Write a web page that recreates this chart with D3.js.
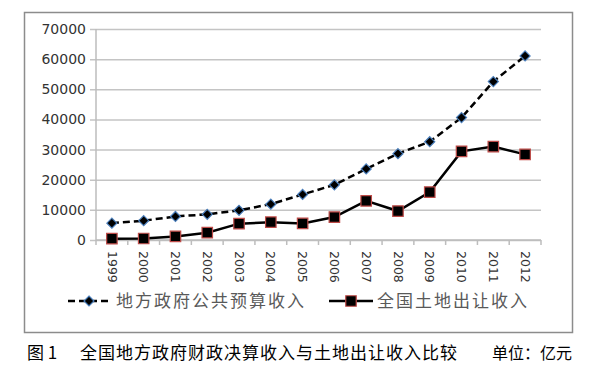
<!DOCTYPE html>
<html>
<head>
<meta charset="utf-8">
<script src="https://cdn.jsdelivr.net/npm/d3@7"></script>
<style>
  body { margin: 0; background: #fff; }
  svg { display: block; }
</style>
</head>
<body>
<svg id="chart" width="595" height="370"></svg>
<script>
const years = ['1999', '2000', '2001', '2002', '2003', '2004', '2005', '2006', '2007', '2008', '2009', '2010', '2011', '2012'];
const budgetRevenue = [5595, 6406, 7803, 8515, 9850, 11893, 15101, 18304, 23573, 28650, 32603, 40613, 52547, 61078];
const landRevenue = [450, 500, 1200, 2420, 5420, 5900, 5500, 7600, 13000, 9600, 15900, 29400, 31000, 28400];
const yTicks = [0, 10000, 20000, 30000, 40000, 50000, 60000, 70000];
const seriesNames = ['地方政府公共预算收入', '全国土地出让收入'];
const caption = ['图 1', '全国地方政府财政决算收入与土地出让收入比较', '单位：亿元'];

const svg = d3.select('#chart');
const margin = { top: 29, right: 54, bottom: 130, left: 96 };
const width = 595 - margin.left - margin.right;
const height = 370 - margin.top - margin.bottom;

// outer frame
svg.append('rect')
  .attr('x', 24.5).attr('y', 12.5)
  .attr('width', 548).attr('height', 320)
  .attr('fill', 'none')
  .attr('stroke', '#8c8c8c')
  .attr('stroke-width', 1.5);

const g = svg.append('g')
  .attr('transform', 'translate(' + margin.left + ',' + margin.top + ')');

const x = d3.scaleBand().domain(years).range([0, width]);
const y = d3.scaleLinear().domain([0, 70000]).range([height, 0]);

// gridlines + y labels
const yAxis = g.append('g')
  .call(d3.axisLeft(y).tickValues(yTicks).tickSize(-width - 6).tickPadding(10).tickFormat(d3.format('d')))
  .attr('transform', 'translate(-6,0)');
yAxis.select('.domain').remove();
yAxis.selectAll('.tick line').attr('stroke', '#c4c4c4').attr('stroke-width', 1.5);
yAxis.selectAll('.tick text')
  .attr('x', -4)
  .attr('fill', '#333')
  .style('font-family', '"DejaVu Sans", sans-serif')
  .style('font-size', '14px');

// y axis line
g.append('line')
  .attr('x1', 0).attr('x2', 0).attr('y1', 0).attr('y2', height)
  .attr('stroke', '#bdbdbd').attr('stroke-width', 1.5);

// x axis line and ticks at band edges
g.append('line')
  .attr('x1', 0).attr('x2', width).attr('y1', height).attr('y2', height)
  .attr('stroke', '#bdbdbd').attr('stroke-width', 1.5);
g.selectAll('.xtick')
  .data(years.concat(['end']))
  .enter().append('line')
  .attr('class', 'xtick')
  .attr('x1', (d, i) => i * x.step()).attr('x2', (d, i) => i * x.step())
  .attr('y1', height).attr('y2', height + 5)
  .attr('stroke', '#bdbdbd').attr('stroke-width', 1.5);

// x labels rotated
g.selectAll('.xlabel')
  .data(years)
  .enter().append('text')
  .attr('class', 'xlabel')
  .attr('transform', d => 'translate(' + (x(d) + x.bandwidth() / 2) + ',' + (height + 11) + ') rotate(90)')
  .attr('dy', '0.35em')
  .attr('fill', '#333')
  .style('font-family', '"DejaVu Sans", sans-serif')
  .style('font-size', '12.5px')
  .text(d => d);

const cx = d => x(d) + x.bandwidth() / 2;
const line = d3.line().x(d => cx(d[0])).y(d => y(d[1]));

const budgetPts = years.map((d, i) => [d, budgetRevenue[i]]);
const landPts = years.map((d, i) => [d, landRevenue[i]]);

g.append('path')
  .datum(budgetPts)
  .attr('d', line)
  .attr('fill', 'none')
  .attr('stroke', '#000')
  .attr('stroke-width', 2.5)
  .attr('stroke-dasharray', '7,4');

g.append('path')
  .datum(landPts)
  .attr('d', line)
  .attr('fill', 'none')
  .attr('stroke', '#000')
  .attr('stroke-width', 2.5);

const diamond = d3.symbol().type(d3.symbolDiamond2).size(64);
const square = d3.symbol().type(d3.symbolSquare).size(110);

g.selectAll('.dmark')
  .data(budgetPts)
  .enter().append('path')
  .attr('class', 'dmark')
  .attr('d', diamond)
  .attr('transform', d => 'translate(' + cx(d[0]) + ',' + y(d[1]) + ')')
  .attr('fill', '#000')
  .attr('stroke', '#4a7ebb')
  .attr('stroke-width', 1.2);

g.selectAll('.smark')
  .data(landPts)
  .enter().append('path')
  .attr('class', 'smark')
  .attr('d', square)
  .attr('transform', d => 'translate(' + cx(d[0]) + ',' + y(d[1]) + ')')
  .attr('fill', '#000')
  .attr('stroke', '#be4b48')
  .attr('stroke-width', 1.2);

// legend
const legendY = 301;
const legend = svg.append('g');
const l1 = legend.append('g').attr('transform', 'translate(68,' + legendY + ')');
l1.append('line').attr('x1', 0).attr('x2', 44).attr('y1', 0).attr('y2', 0)
  .attr('stroke', '#000').attr('stroke-width', 2.5).attr('stroke-dasharray', '7,4');
l1.append('path').attr('d', diamond).attr('transform', 'translate(21,0)')
  .attr('fill', '#000').attr('stroke', '#4a7ebb').attr('stroke-width', 1.2);
l1.append('text').attr('x', 48).attr('dy', '0.35em')
  .attr('fill', '#595959')
  .style('font-family', '"Noto Sans CJK SC", sans-serif')
  .style('font-size', '17px')
  .style('letter-spacing', '2px')
  .text(seriesNames[0]);

const l2 = legend.append('g').attr('transform', 'translate(329,' + legendY + ')');
l2.append('line').attr('x1', 0).attr('x2', 44).attr('y1', 0).attr('y2', 0)
  .attr('stroke', '#000').attr('stroke-width', 2.5);
l2.append('path').attr('d', square).attr('transform', 'translate(22,0)')
  .attr('fill', '#000').attr('stroke', '#be4b48').attr('stroke-width', 1.2);
l2.append('text').attr('x', 48).attr('dy', '0.35em')
  .attr('fill', '#595959')
  .style('font-family', '"Noto Sans CJK SC", sans-serif')
  .style('font-size', '17px')
  .style('letter-spacing', '2px')
  .text(seriesNames[1]);

// caption
const cap = svg.append('text')
  .attr('y', 353)
  .attr('dy', '0.35em')
  .attr('fill', '#000')
  .style('font-family', '"Noto Sans CJK SC", sans-serif')
  .style('font-size', '17px');
cap.append('tspan').attr('x', 27).text(caption[0]);
cap.append('tspan').attr('x', 80).style('letter-spacing', '1px').text(caption[1]);
cap.append('tspan').attr('x', 492).style('font-size', '16px').text(caption[2]);
</script>
</body>
</html>
